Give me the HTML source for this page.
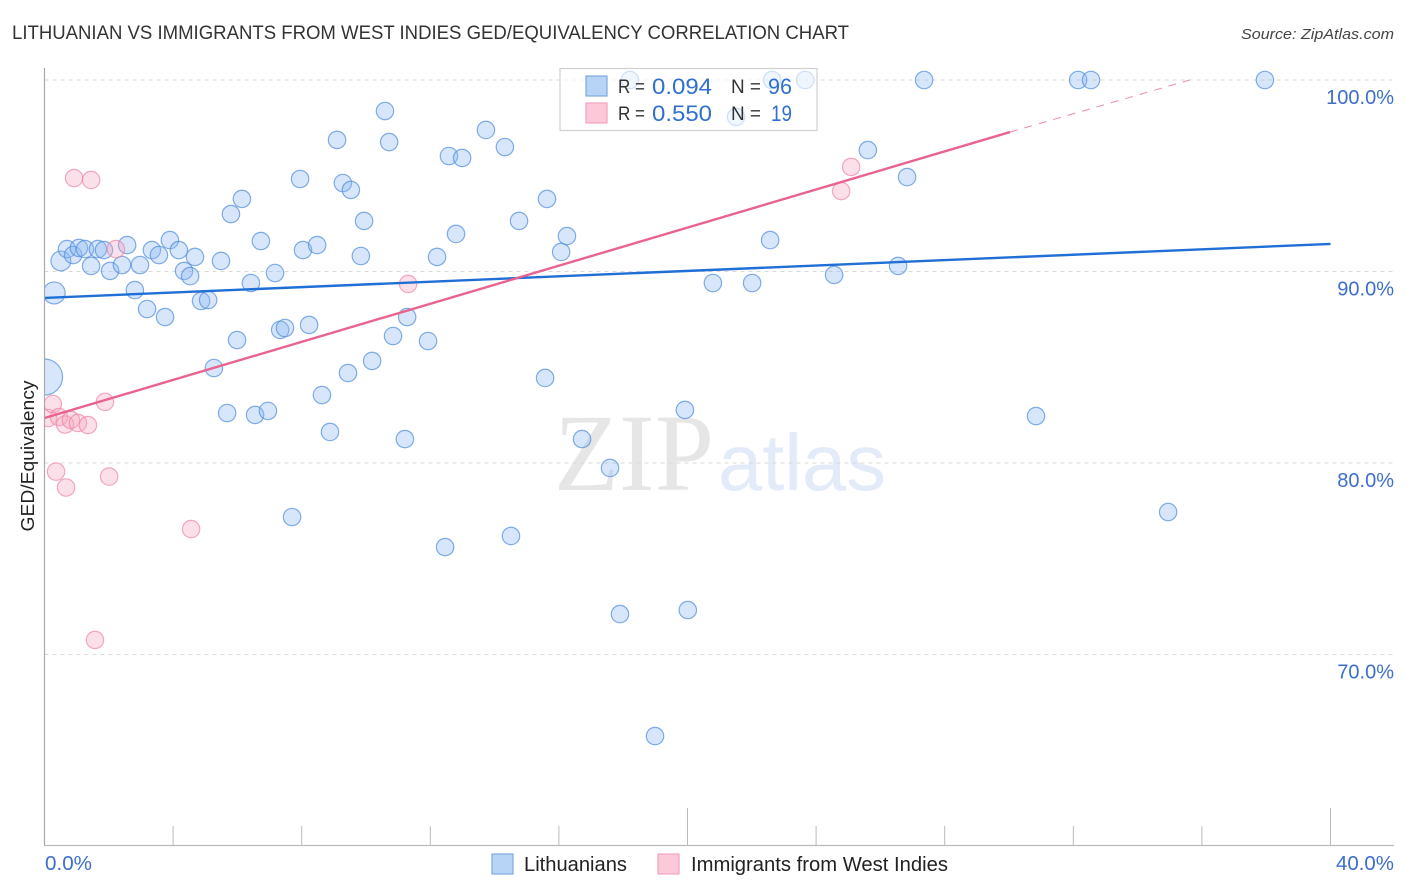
<!DOCTYPE html>
<html lang="en">
<head>
<meta charset="utf-8">
<title>Lithuanian vs Immigrants from West Indies GED/Equivalency Correlation Chart</title>
<style>
html,body{margin:0;padding:0;background:#fff;}
body{width:1406px;height:892px;overflow:hidden;}
svg{display:block;font-family:"Liberation Sans",sans-serif;}
</style>
</head>
<body>
<svg id="chart" xmlns="http://www.w3.org/2000/svg" width="1406" height="892" viewBox="0 0 1406 892">
  <defs>
    <clipPath id="plot-clip"><rect x="44.5" y="60" width="1350" height="785"></rect></clipPath>
  </defs>
  <text x="12" y="39" font-size="19" fill="#333" textLength="837" lengthAdjust="spacingAndGlyphs">LITHUANIAN VS IMMIGRANTS FROM WEST INDIES GED/EQUIVALENCY CORRELATION CHART</text>
  <text x="1394" y="39" font-size="15" font-style="italic" fill="#444" text-anchor="end" textLength="153" lengthAdjust="spacingAndGlyphs">Source: ZipAtlas.com</text>

  <g>
    <text x="554" y="490" font-family="'Liberation Serif',serif" font-size="110" fill="#e6e6e6" textLength="160" lengthAdjust="spacingAndGlyphs">ZIP</text>
    <text x="718" y="490" font-size="80" fill="#e3ebf8" textLength="168" lengthAdjust="spacingAndGlyphs">atlas</text>
  </g>

  <g id="grid"></g>
  <g id="y-labels"></g>
  <g id="x-ticks"></g>

  <g id="series-lith" clip-path="url(#plot-clip)"></g>
  <g id="series-wi" clip-path="url(#plot-clip)"></g>
  <g id="trends"></g>

  <line x1="44.5" y1="68" x2="44.5" y2="845" stroke="#aaa" stroke-width="1.2"></line>
  <line x1="44" y1="845.5" x2="1394" y2="845.5" stroke="#bbb" stroke-width="1.2"></line>

  <text transform="translate(34 456) rotate(-90)" font-size="18" fill="#222" text-anchor="middle" textLength="151" lengthAdjust="spacingAndGlyphs">GED/Equivalency</text>
  <text x="45" y="870" font-size="20" fill="#3d6fc9" textLength="47" lengthAdjust="spacingAndGlyphs">0.0%</text>
  <text x="1394" y="870" font-size="20" fill="#3d6fc9" text-anchor="end" textLength="58" lengthAdjust="spacingAndGlyphs">40.0%</text>

  <g>
    <rect x="560" y="68.5" width="257" height="62" fill="#fff" fill-opacity="0.62" stroke="#d0d0d0" stroke-width="1.2"></rect>
    <rect x="586" y="76" width="21" height="20" fill="#b7d3f6" stroke="#7fa9e0" stroke-width="1.2"></rect>
    <rect x="586" y="103" width="21" height="20" fill="#fcc9d9" stroke="#f3a3bd" stroke-width="1.2"></rect>
    <text x="618" y="93" font-size="19" fill="#333" textLength="27" lengthAdjust="spacingAndGlyphs">R =</text>
    <text x="652" y="94" font-size="22" fill="#2f6fd0" textLength="60" lengthAdjust="spacingAndGlyphs">0.094</text>
    <text x="731" y="93" font-size="19" fill="#333" textLength="30" lengthAdjust="spacingAndGlyphs">N =</text>
    <text x="768" y="94" font-size="22" fill="#2f6fd0" textLength="24" lengthAdjust="spacingAndGlyphs">96</text>
    <text x="618" y="120" font-size="19" fill="#333" textLength="27" lengthAdjust="spacingAndGlyphs">R =</text>
    <text x="652" y="121" font-size="22" fill="#2f6fd0" textLength="60" lengthAdjust="spacingAndGlyphs">0.550</text>
    <text x="731" y="120" font-size="19" fill="#333" textLength="30" lengthAdjust="spacingAndGlyphs">N =</text>
    <text x="771" y="121" font-size="22" fill="#2f6fd0" textLength="21" lengthAdjust="spacingAndGlyphs">19</text>
  </g>

  <g>
    <rect x="492" y="854" width="21" height="20" fill="#b7d3f6" stroke="#7fa9e0" stroke-width="1.2"></rect>
    <text x="524" y="871" font-size="20" fill="#222" textLength="103" lengthAdjust="spacingAndGlyphs">Lithuanians</text>
    <rect x="658" y="854" width="21" height="20" fill="#fcc9d9" stroke="#f3a3bd" stroke-width="1.2"></rect>
    <text x="691" y="871" font-size="20" fill="#222" textLength="257" lengthAdjust="spacingAndGlyphs">Immigrants from West Indies</text>
  </g>
</svg>
<script>
// Data (percent units)
const yTickValues = [100, 90, 80, 70];
const yTickLabels = ["100.0%", "90.0%", "80.0%", "70.0%"];
const xTickValues = [4, 8, 12, 16, 20, 24, 28, 32, 36, 40];
const xMajorTicks = [20, 40];

const lithuaniansX = [0.30,0,0.51,0.70,0.89,1.07,1.26,1.45,1.66,1.85,2.04,2.41,2.57,2.81,2.97,3.19,3.34,3.56,3.75,3.90,4.18,4.34,4.53,4.68,4.87,5.09,5.27,5.49,5.68,5.80,5.99,6.14,6.42,6.55,6.73,6.95,7.17,7.33,7.48,7.70,7.95,8.04,8.23,8.48,8.63,8.88,9.10,9.28,9.44,9.53,9.84,9.94,10.19,10.59,10.72,10.84,11.21,11.28,11.93,12.21,12.46,12.58,12.80,12.99,13.73,14.32,14.51,14.76,15.57,15.63,16.07,16.25,16.72,17.59,17.90,18.21,18.99,19.92,20.01,20.79,21.51,22.01,22.57,22.63,23.66,24.56,25.61,26.55,26.83,27.36,30.84,32.15,32.55,34.95,37.96];
const lithuaniansY = [88.88,84.49,90.55,91.17,90.86,91.23,91.17,90.29,91.17,91.12,90.03,90.34,91.38,89.03,90.34,88.04,91.12,90.86,87.62,91.64,91.12,90.03,89.76,90.76,88.46,88.51,84.96,90.55,82.61,93.00,86.42,93.79,89.40,82.51,91.59,82.72,89.92,86.95,87.05,77.18,94.83,91.12,87.21,91.38,83.55,81.62,96.87,94.62,84.70,94.26,90.81,92.64,85.33,98.38,96.76,86.63,81.25,87.62,86.37,90.76,75.61,96.03,91.96,95.93,97.39,96.50,76.19,92.64,84.44,93.79,91.02,91.85,81.25,79.74,72.11,100,65.74,82.77,72.32,89.40,98.07,89.40,91.64,100,100,89.82,96.34,90.29,94.93,100,82.45,100,100,77.44,100];
const lithuaniansWeight = [1.6,4.3,1.3];

const westIndiesX = [0.11,0.26,0.45,0.64,0.82,1.04,1.35,1.88,0.36,0.67,2.01,4.56,1.57,0.92,1.45,2.22,11.31,24.78,25.09];
const westIndiesY = [82.35,83.08,82.40,82.01,82.25,82.09,81.98,83.19,79.55,78.72,79.29,76.55,70.76,94.88,94.78,91.17,89.35,94.20,95.46];

const lithuaniansTrendX = [0, 40];
const lithuaniansTrendY = [88.62, 91.44];
const westIndiesTrendX = [0, 30.03];
const westIndiesTrendY = [82.35, 97.28];
const westIndiesDashX = [30.03, 35.62];
const westIndiesDashY = [97.28, 100];

// Axis functions
const SVG_NS = "http://www.w3.org/2000/svg";
function xScale(v) { return 44.5 + v * 32.15; }
function yScale(v) { return 80 + (100 - v) * 19.15; }
function radius(w) { return 8.7 * Math.sqrt(w); }

const svgEls = {
  grid: document.getElementById("grid"),
  yLabels: document.getElementById("y-labels"),
  xTicks: document.getElementById("x-ticks"),
  lith: document.getElementById("series-lith"),
  wi: document.getElementById("series-wi"),
  trends: document.getElementById("trends")
};

yTickValues.forEach(function (v, i) {
  const g = document.createElementNS(SVG_NS, "line");
  
  
  g.setAttribute("x1", 44.5);
  g.setAttribute("x2", 1394);
  g.setAttribute("y1", yScale(v));
  g.setAttribute("y2", yScale(v));
  g.setAttribute("stroke", "#d9d9d9");
  g.setAttribute("stroke-width", "1");
  g.setAttribute("stroke-dasharray", "4 4");
  svgEls.grid.appendChild(g);

  const t = document.createElementNS(SVG_NS, "text");
  
  
  t.setAttribute("x", 1394);
  t.setAttribute("y", yScale(v) + 24);
  t.setAttribute("font-size", "20");
  t.setAttribute("fill", "#3d6fc9");
  t.setAttribute("text-anchor", "end");
  t.textContent = yTickLabels[i];
  svgEls.yLabels.appendChild(t);
});

xTickValues.forEach(function (v) {
  const major = xMajorTicks.indexOf(v) >= 0;
  const l = document.createElementNS(SVG_NS, "line");
  
  
  l.setAttribute("x1", xScale(v));
  l.setAttribute("x2", xScale(v));
  l.setAttribute("y1", major ? 808 : 826);
  l.setAttribute("y2", 845);
  l.setAttribute("stroke", "#bbb");
  l.setAttribute("stroke-width", "1");
  svgEls.xTicks.appendChild(l);
});

lithuaniansX.forEach(function (v, i) {
  const c = document.createElementNS(SVG_NS, "circle");
  
  
  c.setAttribute("cx", xScale(v));
  c.setAttribute("cy", yScale(lithuaniansY[i]));
  c.setAttribute("r", radius(lithuaniansWeight[i] || 1));
  c.setAttribute("fill", "#8db8f0");
  c.setAttribute("fill-opacity", "0.35");
  c.setAttribute("stroke", "#4f8cdc");
  c.setAttribute("stroke-opacity", "0.7");
  c.setAttribute("stroke-width", "1.2");
  svgEls.lith.appendChild(c);
});

westIndiesX.forEach(function (v, i) {
  const c = document.createElementNS(SVG_NS, "circle");
  
  
  c.setAttribute("cx", xScale(v));
  c.setAttribute("cy", yScale(westIndiesY[i]));
  c.setAttribute("r", radius(1));
  c.setAttribute("fill", "#f7a6c0");
  c.setAttribute("fill-opacity", "0.35");
  c.setAttribute("stroke", "#ec7ea3");
  c.setAttribute("stroke-opacity", "0.65");
  c.setAttribute("stroke-width", "1.2");
  svgEls.wi.appendChild(c);
});

const blueTrend = document.createElementNS(SVG_NS, "line");


blueTrend.setAttribute("x1", xScale(lithuaniansTrendX[0]));
blueTrend.setAttribute("y1", yScale(lithuaniansTrendY[0]));
blueTrend.setAttribute("x2", xScale(lithuaniansTrendX[1]));
blueTrend.setAttribute("y2", yScale(lithuaniansTrendY[1]));
blueTrend.setAttribute("stroke", "#1f6fd6");
blueTrend.setAttribute("stroke-width", "2.4");
svgEls.trends.appendChild(blueTrend);

const pinkTrend = document.createElementNS(SVG_NS, "line");


pinkTrend.setAttribute("x1", xScale(westIndiesTrendX[0]));
pinkTrend.setAttribute("y1", yScale(westIndiesTrendY[0]));
pinkTrend.setAttribute("x2", xScale(westIndiesTrendX[1]));
pinkTrend.setAttribute("y2", yScale(westIndiesTrendY[1]));
pinkTrend.setAttribute("stroke", "#e8648f");
pinkTrend.setAttribute("stroke-width", "2.4");
svgEls.trends.appendChild(pinkTrend);

const pinkDash = document.createElementNS(SVG_NS, "line");


pinkDash.setAttribute("x1", xScale(westIndiesDashX[0]));
pinkDash.setAttribute("y1", yScale(westIndiesDashY[0]));
pinkDash.setAttribute("x2", xScale(westIndiesDashX[1]));
pinkDash.setAttribute("y2", yScale(westIndiesDashY[1]));
pinkDash.setAttribute("stroke", "#e8648f");
pinkDash.setAttribute("stroke-opacity", "0.75");
pinkDash.setAttribute("stroke-width", "1");
pinkDash.setAttribute("stroke-dasharray", "8 7");
svgEls.trends.appendChild(pinkDash);
</script>
</body>
</html>
